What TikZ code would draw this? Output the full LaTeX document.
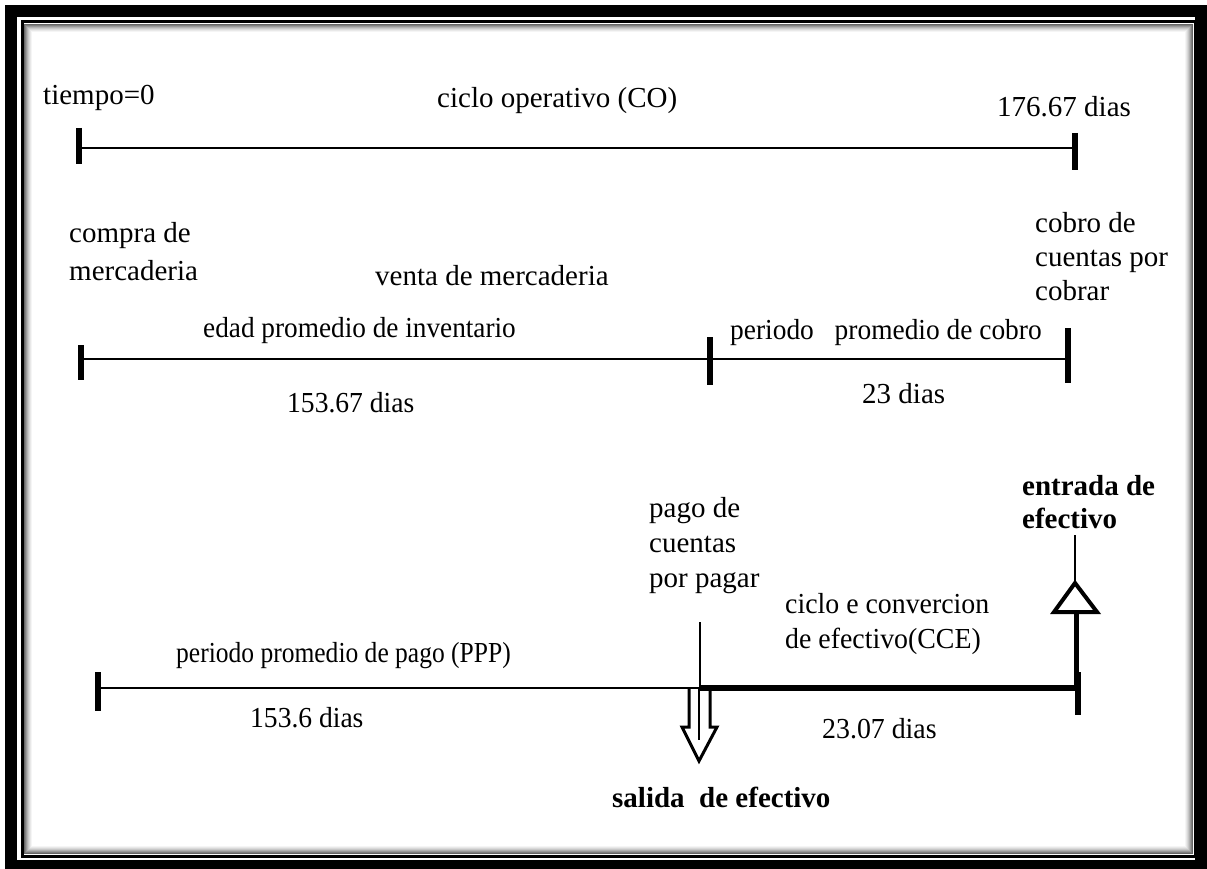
\documentclass[tikz,border=0pt]{standalone}
\usepackage{fontspec}
\usepackage{graphicx}
\setmainfont{Liberation Serif}
\usetikzlibrary{calc}
\newcommand{\estrecho}[2]{\scalebox{#1}[1]{#2}}

\begin{document}
\begin{tikzpicture}[x=1pt,y=-1pt,
    every node/.style={inner sep=0pt,anchor=base west,align=left,font=\fontsize{29}{35}\selectfont},
    negrita/.style={font=\fontsize{29}{33}\selectfont\bfseries},
    tick/.style={line width=5.5pt},
    eje/.style={line width=2pt}]
                \useasboundingbox (0,0) rectangle (1207,869);
                \draw[line width=12pt] (11,11) rectangle (1201,866);
                \draw[line width=3pt] (22,22) rectangle (1195,856);
                \foreach \d/\g in {2.5/60,3.5/50,4.5/40,5.5/30,6.5/22,7.5/15,8.5/9,9.5/4}
                    \draw[black!\g,line width=1.1pt] (22+\d,22+\d) rectangle (1195-\d,856-\d);

                \coordinate (A1) at (79,148);  \coordinate (A2) at (1075,148);
                \coordinate (B1) at (81,359);  \coordinate (B2) at (710,359);  \coordinate (B3) at (1068,359);
                \coordinate (C1) at (98,688);  \coordinate (C2) at (700,688);  \coordinate (C3) at (1078,688);
                \coordinate (P) at (700,622);  \coordinate (E) at (1075,535);  \coordinate (T) at (1075,583);

                \draw[eje] (A1) -- (A2);
                \draw[eje] (B1) -- (B3);
                \draw[eje] (C1) -- (C2);
                \draw[line width=6pt] (C2) -- (C3);
                \foreach \p/\u/\v in {A1/-20/16,A2/-15/22,B1/-14/21,B2/-22/26,B3/-31/24,C1/-16/23,C3/-16/27}
                    \draw[tick] ($(\p)+(0,\u)$) -- ($(\p)+(0,\v)$);

                \draw[line width=1.5pt] (P) -- (C2);
                \draw[line width=3pt,line join=miter] (689,689) -- (689,727) -- (682,727) -- (699,761) -- (717,727) -- (710,727) -- (710,689);
                \draw[line width=2pt] (699,689) -- (699,740);

                \draw[line width=1.5pt] (E) -- (T);
                \draw[line width=4pt,line join=miter] (T) -- (1054,612) -- (1097,612) -- cycle;
                \draw[line width=5pt] (1076,612) -- (1076,688);

                \node (t0) at (43,105) {tiempo=0};
                \node (co) at (437,108) {ciclo operativo (CO)};
                \node (d1) at (997,117) {176.67 dias};
                \node (cm) at (69,280) {compra de\\[3pt]mercaderia};
                \node (vm) at (375,285) {venta de mercaderia};
                \node (ep) at (203,337) {\estrecho{0.94}{edad promedio de inventario}};
                \node (pc) at (730,339) {\estrecho{0.945}{periodo\hspace{0.76em}promedio de cobro}};
                \node[font=\fontsize{29}{34}\selectfont] (cc) at (1035,300) {cobro de\\cuentas por\\cobrar};
                \node (d2) at (287,412) {\estrecho{0.95}{153.67 dias}};
                \node (d3) at (862,403) {23 dias};
                \node (pp) at (649,587) {pago de\\cuentas\\por pagar};
                \node[negrita] (en) at (1022,528) {entrada de\\efectivo};
                \node (ce) at (785,648) {\estrecho{0.96}{ciclo e convercion}\\\estrecho{0.96}{de efectivo(CCE)}};
                \node (ppp) at (176,662) {\estrecho{0.88}{periodo promedio de pago (PPP)}};
                \node (d4) at (250,727) {\estrecho{0.95}{153.6 dias}};
                \node (d5) at (822,738) {\estrecho{0.96}{23.07 dias}};
                \node[negrita] (se) at (612,807) {salida\ \ de efectivo};
            \end{tikzpicture}
\end{document}
